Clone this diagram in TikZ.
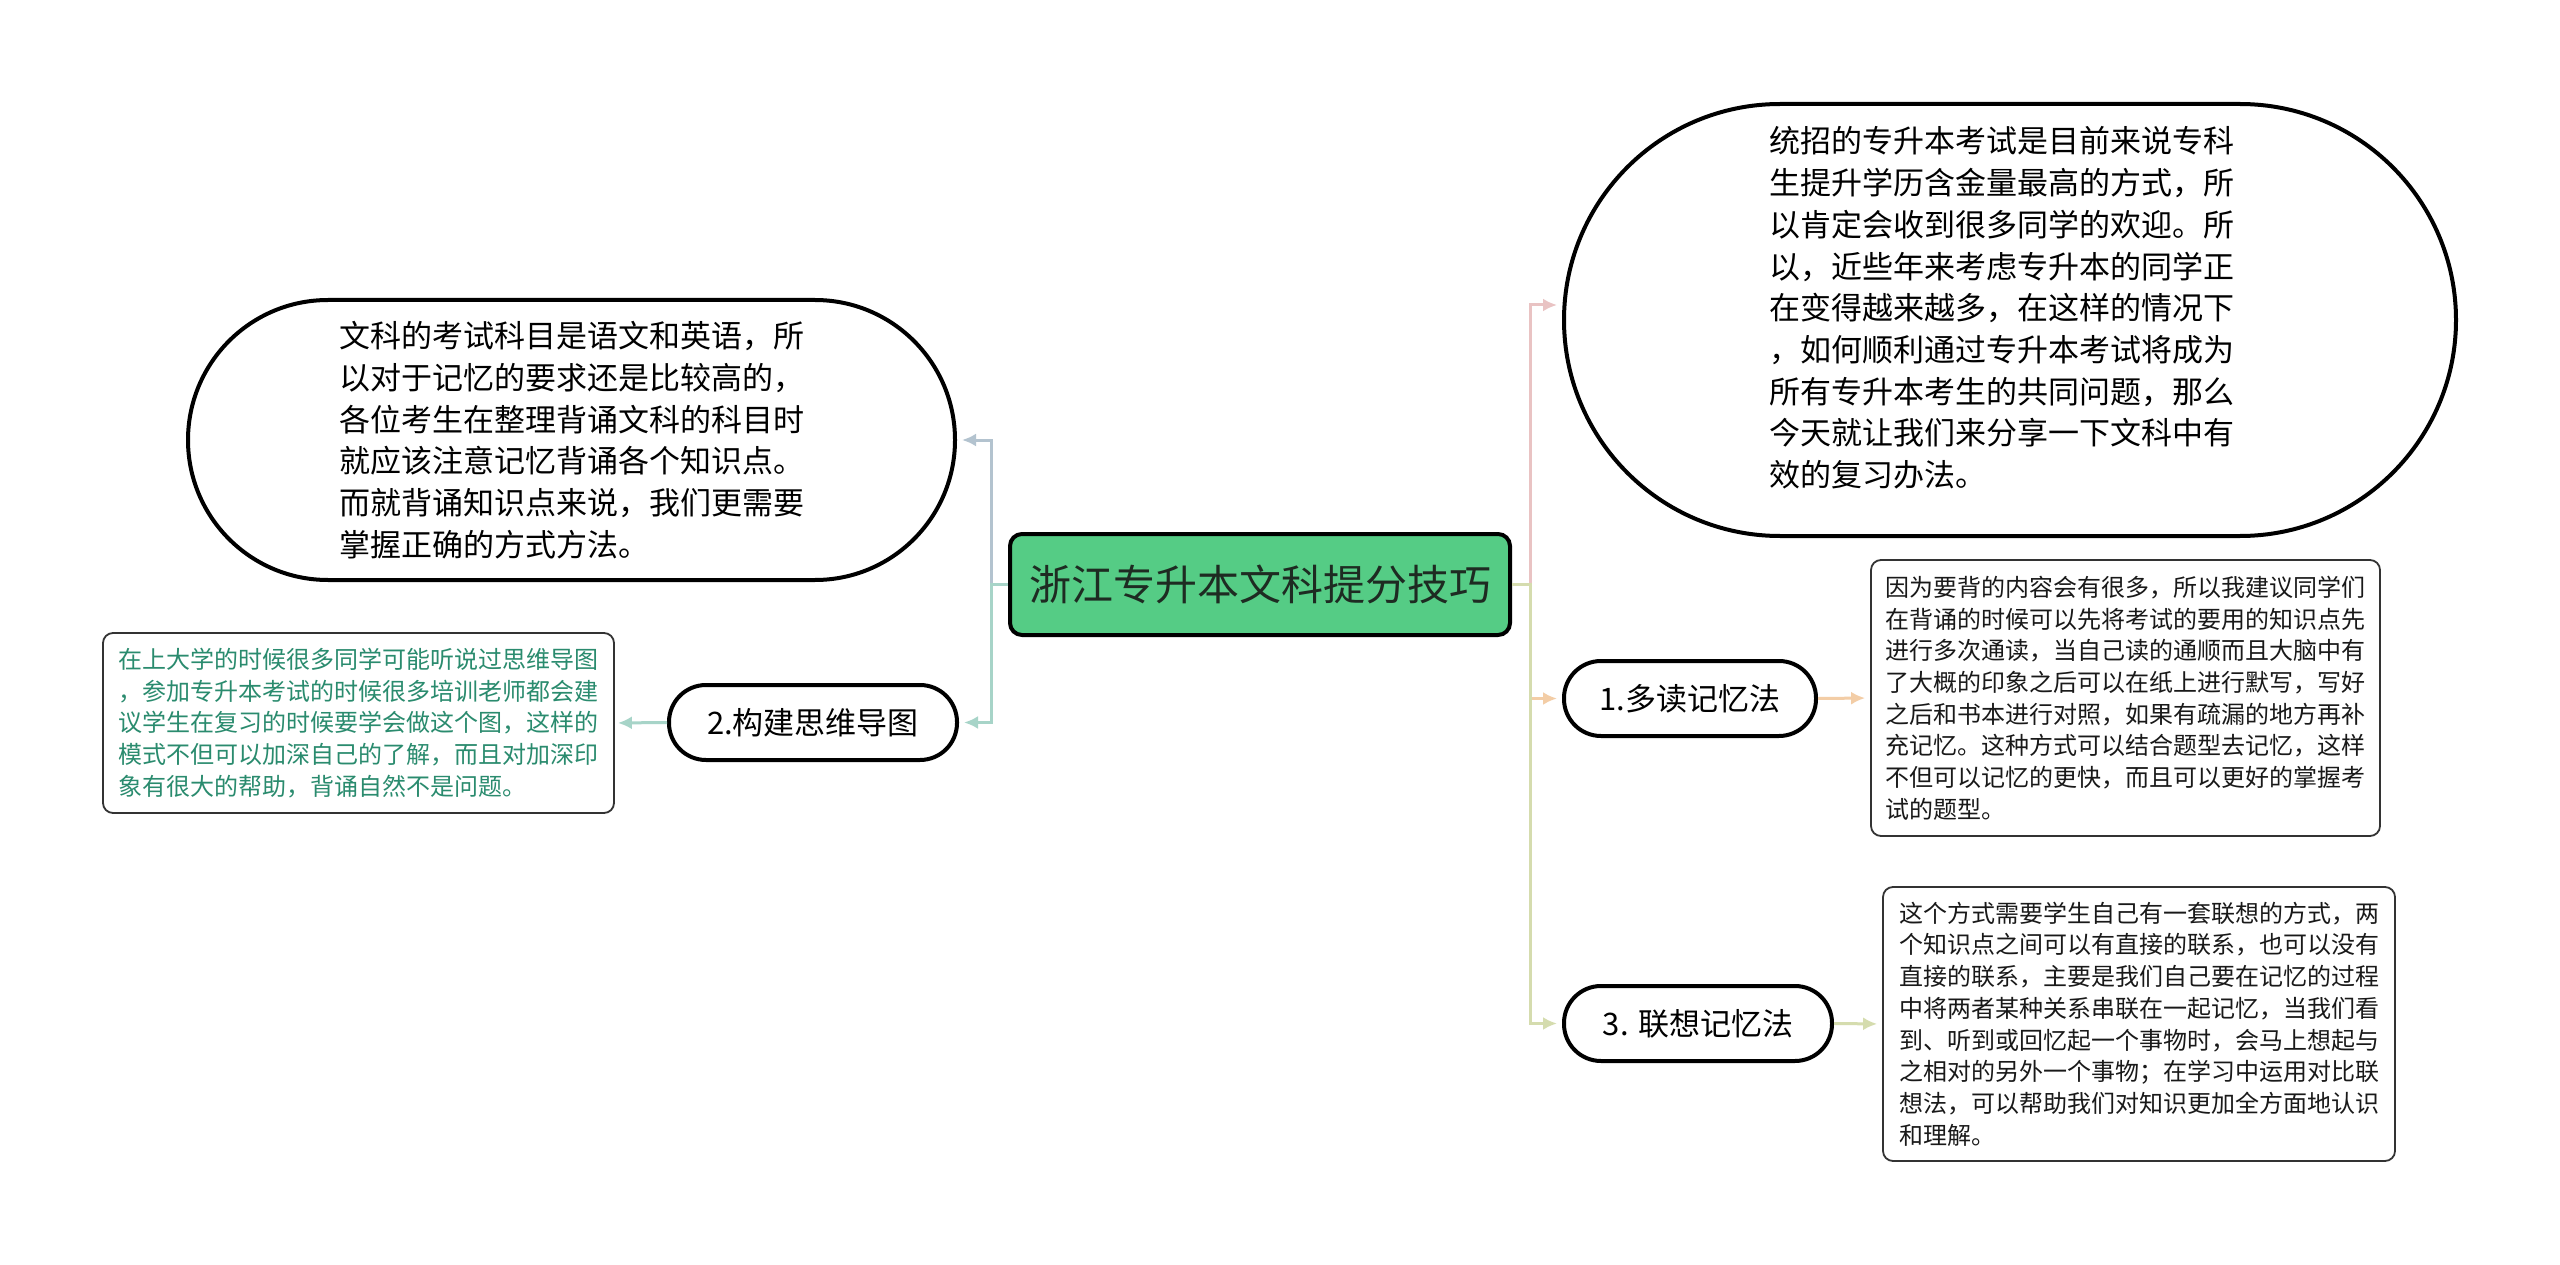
\documentclass[tikz,border=0pt]{standalone}
\usepackage{fontspec}
\newfontfamily\cjk{Noto Sans CJK SC}
\usetikzlibrary{arrows.meta}
\definecolor{rootgreen}{HTML}{55CC85}
\definecolor{roottext}{HTML}{1E2B22}
\definecolor{cLT}{HTML}{B3C3CF}
\definecolor{cLB}{HTML}{A7D4C8}
\definecolor{cRT}{HTML}{E9C3C3}
\definecolor{cR1}{HTML}{F3CDA6}
\definecolor{cR3}{HTML}{D5DCAE}
\definecolor{tealtext}{HTML}{2A8B6E}
\definecolor{boxline}{HTML}{333333}
\tikzset{
  rootbox/.style={draw=black, line width=4pt, fill=rootgreen, rounded corners=12pt, text=roottext,
    font={\cjk\fontsize{42}{50}\selectfont}, minimum width=500pt, minimum height=101pt, inner sep=0pt},
  bigell/.style={draw=black, line width=4pt, fill=white, align=left, text=black, inner sep=0pt,
    font={\cjk\fontsize{31}{41.7}\selectfont}},
  elltext/.style={align=left, text=black, inner sep=0pt, font={\cjk\fontsize{31}{41.7}\selectfont}},
  pill/.style={draw=black, line width=4pt, fill=white, rounded corners=37pt, inner sep=0pt,
    font={\cjk\fontsize{31}{36}\selectfont}, minimum height=75pt, text=black},
  textbox/.style={draw=boxline, line width=1.8pt, fill=white, rounded corners=10pt, align=left, inner sep=0pt,
    font={\cjk\fontsize{24}{31.7}\selectfont}, text=black!90},
  arr/.style={-{Latex[length=14pt,width=13pt]}, line width=3pt, shorten >=5pt},
}
\begin{document}
\begin{tikzpicture}[x=1pt,y=-1pt]
\useasboundingbox[fill=white] (0,0) rectangle (2560,1265);

\node[rootbox] (root) at (1260,584.5) {浙江专升本文科提分技巧};

\node[bigell, minimum width=767pt, minimum height=280pt, rounded corners=140pt] (tl) at (571.5,440) {文科的考试科目是语文和英语，所\\以对于记忆的要求还是比较高的，\\各位考生在整理背诵文科的科目时\\就应该注意记忆背诵各个知识点。\\而就背诵知识点来说，我们更需要\\掌握正确的方式方法。};

\node[bigell, minimum width=892pt, minimum height=432pt, rounded corners=216pt] (tr) at (2010,320) {};
\node[elltext] (trtext) at (2002,308) {统招的专升本考试是目前来说专科\\生提升学历含金量最高的方式，所\\以肯定会收到很多同学的欢迎。所\\以，近些年来考虑专升本的同学正\\在变得越来越多，在这样的情况下\\，如何顺利通过专升本考试将成为\\所有专升本考生的共同问题，那么\\今天就让我们来分享一下文科中有\\效的复习办法。};

\node[pill, minimum width=252pt] (n1) at (1690,698.5) {1.多读记忆法};
\node[pill, minimum width=268pt] (n3) at (1698,1023.5) {3. 联想记忆法};
\node[pill, minimum width=288pt] (n2) at (813,722.5) {2.构建思维导图};

\node[textbox, minimum width=509pt, minimum height=276pt] (b1) at (2125.5,698) {因为要背的内容会有很多，所以我建议同学们\\在背诵的时候可以先将考试的要用的知识点先\\进行多次通读，当自己读的通顺而且大脑中有\\了大概的印象之后可以在纸上进行默写，写好\\之后和书本进行对照，如果有疏漏的地方再补\\充记忆。这种方式可以结合题型去记忆，这样\\不但可以记忆的更快，而且可以更好的掌握考\\试的题型。};

\node[textbox, minimum width=512pt, minimum height=274pt] (b3) at (2139,1024) {这个方式需要学生自己有一套联想的方式，两\\个知识点之间可以有直接的联系，也可以没有\\直接的联系，主要是我们自己要在记忆的过程\\中将两者某种关系串联在一起记忆，当我们看\\到、听到或回忆起一个事物时，会马上想起与\\之相对的另外一个事物；在学习中运用对比联\\想法，可以帮助我们对知识更加全方面地认识\\和理解。};

\node[textbox, text=tealtext, minimum width=511pt, minimum height=180pt] (b2) at (358.5,723) {在上大学的时候很多同学可能听说过思维导图\\，参加专升本考试的时候很多培训老师都会建\\议学生在复习的时候要学会做这个图，这样的\\模式不但可以加深自己的了解，而且对加深印\\象有很大的帮助，背诵自然不是问题。};

\coordinate (lj) at (991,584.5);
\coordinate (rj) at (1530,584.5);

\draw[arr, cLT] (root.west) -- (lj) |- (tl.east);
\draw[arr, cLB] (root.west) -- (lj) |- (n2.east);
\draw[arr, cRT] (root.east) -- (rj) |- ([yshift=15pt]tr.west);
\draw[arr, cR1] (root.east) -- (rj) |- (n1.west);
\draw[arr, cR3] (root.east) -- (rj) |- (n3.west);
\draw[arr, cR1] (n1.east) -- (b1.west);
\draw[arr, cR3] (n3.east) -- (b3.west);
\draw[arr, cLB, shorten >=3pt] (n2.west) -- (b2.east);
\end{tikzpicture}
\end{document}
